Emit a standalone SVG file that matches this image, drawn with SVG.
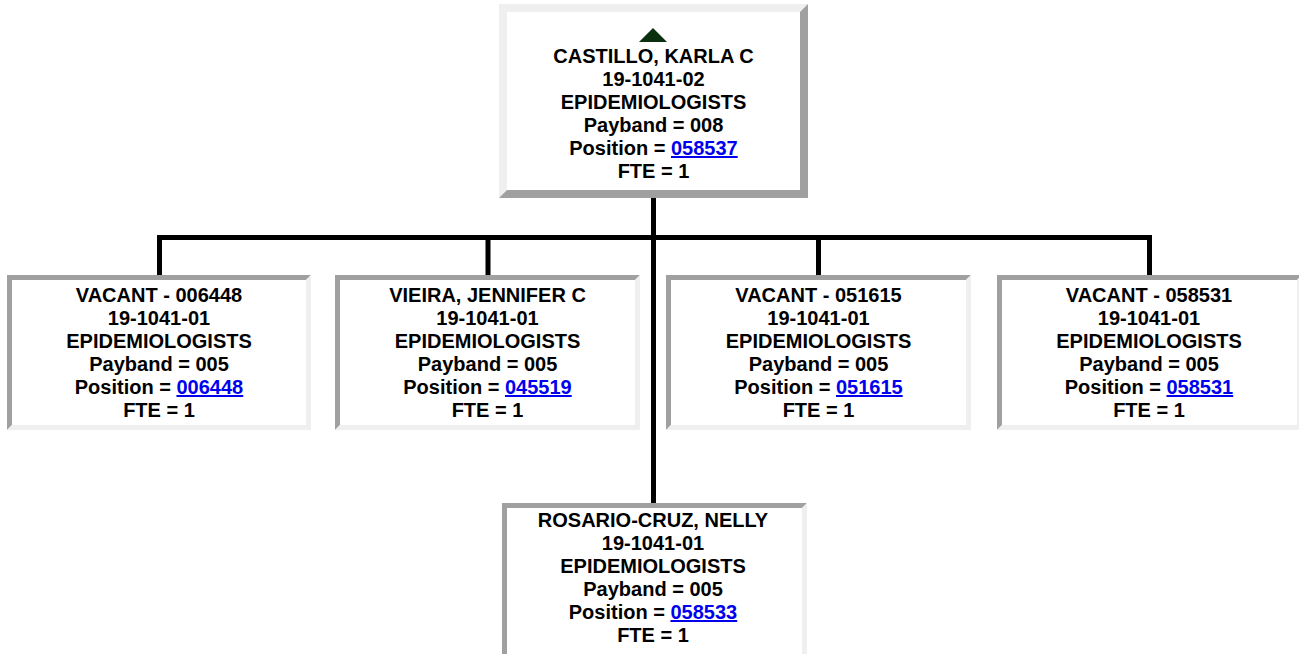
<svg xmlns="http://www.w3.org/2000/svg" width="1299" height="654" viewBox="0 0 1299 654">
<style>
.bg{fill:#ffffff}
.lt{fill:#efefef}
.dk{fill:#a0a0a0}
.t{font-family:"Liberation Sans",Arial,sans-serif;font-weight:bold;font-size:20px;fill:#000;text-anchor:middle}
.lk{fill:#0000ee;text-decoration:underline}
.ln{stroke:#000;stroke-width:5;fill:none}
</style>
<rect width="1299" height="654" fill="#fff"/>
<g id="connectors">
<path class="ln" d="M653.5 198 V503"/>
<path class="ln" d="M157 237.5 H1152"/>
<path class="ln" d="M159.5 237.5 V275"/>
<path class="ln" d="M488 237.5 V275"/>
<path class="ln" d="M818.5 237.5 V275"/>
<path class="ln" d="M1149.5 237.5 V275"/>
</g>
<g id="node-castillo">
<rect class="bg" x="499" y="4" width="309" height="194"/>
<polygon class="lt" points="499,4 808,4 800,12 507,12 507,190 499,198"/>
<polygon class="dk" points="808,4 808,198 499,198 507,190 800,190 800,12"/>
<polygon points="653,28 639,42 667,42" fill="#0b300f"/>
<text class="t" x="653.5" y="63">CASTILLO, KARLA C</text>
<text class="t" x="653.5" y="86">19-1041-02</text>
<text class="t" x="653.5" y="109">EPIDEMIOLOGISTS</text>
<text class="t" x="653.5" y="132">Payband = 008</text>
<text class="t" x="653.5" y="155">Position = <tspan class="lk">058537</tspan></text>
<text class="t" x="653.5" y="177.5">FTE = 1</text>
</g>
<g id="node-vacant-006448">
<rect class="bg" x="7" y="275" width="304" height="155"/>
<polygon class="dk" points="7,275 311,275 306,280 12,280 12,425 7,430"/>
<polygon class="lt" points="311,275 311,430 7,430 12,425 306,425 306,280"/>
<text class="t" x="159" y="302">VACANT - 006448</text>
<text class="t" x="159" y="325">19-1041-01</text>
<text class="t" x="159" y="348">EPIDEMIOLOGISTS</text>
<text class="t" x="159" y="371">Payband = 005</text>
<text class="t" x="159" y="394">Position = <tspan class="lk">006448</tspan></text>
<text class="t" x="159" y="417">FTE = 1</text>
</g>
<g id="node-vieira">
<rect class="bg" x="335" y="275" width="305" height="155"/>
<polygon class="dk" points="335,275 640,275 635,280 340,280 340,425 335,430"/>
<polygon class="lt" points="640,275 640,430 335,430 340,425 635,425 635,280"/>
<text class="t" x="487.5" y="302">VIEIRA, JENNIFER C</text>
<text class="t" x="487.5" y="325">19-1041-01</text>
<text class="t" x="487.5" y="348">EPIDEMIOLOGISTS</text>
<text class="t" x="487.5" y="371">Payband = 005</text>
<text class="t" x="487.5" y="394">Position = <tspan class="lk">045519</tspan></text>
<text class="t" x="487.5" y="417">FTE = 1</text>
</g>
<g id="node-vacant-051615">
<rect class="bg" x="666" y="275" width="305" height="155"/>
<polygon class="dk" points="666,275 971,275 966,280 671,280 671,425 666,430"/>
<polygon class="lt" points="971,275 971,430 666,430 671,425 966,425 966,280"/>
<text class="t" x="818.5" y="302">VACANT - 051615</text>
<text class="t" x="818.5" y="325">19-1041-01</text>
<text class="t" x="818.5" y="348">EPIDEMIOLOGISTS</text>
<text class="t" x="818.5" y="371">Payband = 005</text>
<text class="t" x="818.5" y="394">Position = <tspan class="lk">051615</tspan></text>
<text class="t" x="818.5" y="417">FTE = 1</text>
</g>
<g id="node-vacant-058531">
<rect class="bg" x="997" y="275" width="305" height="155"/>
<polygon class="dk" points="997,275 1302,275 1297,280 1002,280 1002,425 997,430"/>
<polygon class="lt" points="1302,275 1302,430 997,430 1002,425 1297,425 1297,280"/>
<text class="t" x="1149" y="302">VACANT - 058531</text>
<text class="t" x="1149" y="325">19-1041-01</text>
<text class="t" x="1149" y="348">EPIDEMIOLOGISTS</text>
<text class="t" x="1149" y="371">Payband = 005</text>
<text class="t" x="1149" y="394">Position = <tspan class="lk">058531</tspan></text>
<text class="t" x="1149" y="417">FTE = 1</text>
</g>
<g id="node-rosario-cruz">
<rect class="bg" x="502" y="503" width="305" height="160"/>
<polygon class="dk" points="502,503 807,503 802,508 507,508 507,658 502,663"/>
<polygon class="lt" points="807,503 807,663 502,663 507,658 802,658 802,508"/>
<text class="t" x="653" y="527">ROSARIO-CRUZ, NELLY</text>
<text class="t" x="653" y="550">19-1041-01</text>
<text class="t" x="653" y="573">EPIDEMIOLOGISTS</text>
<text class="t" x="653" y="596">Payband = 005</text>
<text class="t" x="653" y="619">Position = <tspan class="lk">058533</tspan></text>
<text class="t" x="653" y="642">FTE = 1</text>
</g>
</svg>
